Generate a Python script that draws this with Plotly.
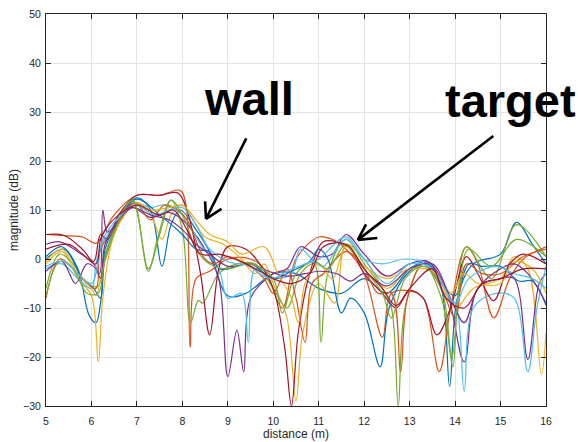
import plotly.graph_objects as go

# ---- data (distance in m, magnitude in dB) ----
blue_a_x = [5, 5.35, 5.7, 5.95, 6.1, 6.2, 6.3, 6.6, 7.0, 7.3, 7.55, 7.75, 7.95, 8.3, 8.6, 9.0, 9.4, 10.0, 10.5, 11.0, 11.5, 12.0, 12.5, 13.0, 13.4, 13.7, 13.88, 14.05, 14.4, 15.0, 15.35, 15.7, 16]
blue_a_y = [0.5, 2.5, -2, -11.5, -13, -9, 0, 8, 12.5, 10, -1.5, 7, 10, 6, 1.5, -7.5, -7, -3, -3, -6, -7, -4, -7, -2, -0.5, -6, -26, -8, -1, 1, 7.5, 3, -1]

orange_a_x = [5, 5.5, 5.8, 6.1, 6.25, 6.5, 7.0, 7.5, 7.95, 8.08, 8.17, 8.3, 8.6, 9.0, 9.5, 9.8, 10.2, 10.5, 11.0, 11.3, 11.6, 12.0, 12.4, 12.6, 13.0, 13.3, 13.65, 13.9, 14.25, 14.5, 14.85, 15.2, 15.5, 16]
orange_a_y = [5, 4.7, 4.5, 3.2, 5, 9, 13, 13, 14, 11, -18, -4, -2.5, 0, 0, -2, -10, 0, 4.5, 4, 2, -3, -16, -7, -6.5, -8, -23, -10, 2.5, -1, -12, -4, 0, 2.5]

yellow_a_x = [5, 5.35, 5.7, 6.0, 6.15, 6.25, 6.5, 6.95, 7.3, 7.55, 7.75, 8.0, 8.3, 8.5, 8.9, 9.3, 9.6, 9.8, 10.0, 10.3, 10.5, 10.65, 11.0, 11.35, 11.6, 12.0, 12.5, 13.0, 13.5, 14.0, 14.4, 15.0, 15.3, 15.6, 15.9, 16]
yellow_a_y = [-1, 1.5, -4, -7.5, -21, -8, 5, 11.5, 9, 4, 9, 11, 7, 4.5, 3, 0, -3, -1, -5, -12, -29, -15, -5, -9, 3, 0, -6, -2, -2, -10, -6, -4, 0.5, -2, -23.5, -15]

purple_a_x = [5, 5.3, 5.7, 6.05, 6.18, 6.25, 6.35, 6.6, 6.9, 7.3, 7.7, 8.0, 8.5, 8.8, 9.0, 9.2, 9.35, 9.5, 10.0, 10.3, 10.6, 11.0, 11.3, 11.6, 12.0, 12.5, 13.0, 13.4, 13.8, 14.2, 14.5, 15.0, 15.3, 15.6, 15.85, 16]
purple_a_y = [3, 3.5, 1.5, -1, -3, 10, 5.5, 8, 10.5, 8.5, 9.5, 8, 2, -4, -24, -14.5, -23, -8, -3, -2, 2.5, 0.5, 1, 5, 1, -3.5, -1, -0.5, -6, -21, -6, -4, -4, -20.5, -5, -3]

green_a_x = [5, 5.3, 5.6, 5.9, 6.15, 6.3, 6.9, 7.25, 7.5, 7.75, 8.0, 8.18, 8.35, 8.45, 8.8, 9.2, 9.6, 10.0, 10.3, 10.6, 10.9, 11.05, 11.2, 11.6, 12.0, 12.4, 12.6, 12.75, 12.9, 13.3, 13.7, 13.95, 14.05, 14.25, 14.8, 15.35, 16]
green_a_y = [-6, 1, -1, -5, -5.5, 1, 12, -2, 5, 12, 6, -13, -8.5, -9, -3, -1, -1, -6, -10, -3, -1, -17, -3, 4, -1, -6, -10, -30, -10, -1, -8, -22, -9, 2.5, -4, 7, 0.5]

lightblue_a_x = [5, 5.35, 5.7, 6.0, 6.1, 6.2, 6.6, 6.95, 7.3, 7.6, 8.0, 8.4, 8.8, 9.0, 9.3, 9.45, 9.6, 9.9, 10.1, 10.4, 10.6, 10.9, 11.1, 11.6, 12.0, 12.4, 12.9, 13.4, 13.8, 14.0, 14.2, 14.4, 14.9, 15.3, 15.6, 15.8, 16]
lightblue_a_y = [-2, -1, -4, -6, -1, 2.5, 8, 11.5, 10.5, 11, 9, 3, -2, -8, -7, -17, -2, -3.5, -4, -3, 2, -0.5, -1.5, 4, 0, -1, 0, -1, -8, -9, -27, -10, -7, -8, -23, -10, -1.5]

darkred_a_x = [5, 5.4, 5.8, 6.05, 6.2, 6.35, 6.6, 7.0, 7.5, 7.9, 8.1, 8.4, 8.6, 8.8, 9.0, 9.4, 9.7, 10.0, 10.25, 10.4, 10.55, 10.8, 11.1, 11.4, 11.7, 12.0, 12.4, 12.7, 13.0, 13.3, 13.6, 13.9, 14.25, 14.5, 14.85, 15.2, 15.5, 16]
darkred_a_y = [5, 4.8, 2, -0.5, 5, 4, 9, 13, 13, 13.5, 10, -3, -15.5, -2, 2.5, 2, -1, -6, -18, -30, -15, -3, 3.5, 3.5, 2, -3, -7, -10, -6.5, -8, -15.5, -10, 0.5, -3, -8.5, -1, 1, -1]

blue_b_x = [5, 5.4, 5.8, 6.05, 6.2, 6.3, 6.6, 7.0, 7.5, 8.0, 8.3, 8.6, 8.8, 9.0, 9.5, 10.0, 10.4, 10.8, 11.0, 11.2, 11.5, 11.7, 12.0, 12.35, 12.55, 13.0, 13.4, 13.7, 14.0, 14.3, 14.6, 15.0, 15.4, 15.7, 16]
blue_b_y = [0, 2, -4, -6, -8, 2, 8, 12.2, 9, 5, 2, 1.5, -2, -2, -1, -4, -2.5, -0.5, 2, 0, -11, -8, -11, -22, -10, -2.5, -1, -5, -7.5, -1, -1.5, -1.5, -4.5, -4.5, -9.5]

orange_b_x = [5, 5.3, 5.6, 5.9, 6.1, 6.2, 6.5, 6.95, 7.3, 7.6, 7.9, 8.1, 8.5, 8.7, 9.0, 9.4, 9.8, 10.0, 10.3, 10.5, 10.7, 10.85, 11.1, 11.6, 12.0, 12.3, 12.6, 12.8, 12.95, 13.3, 13.7, 14.0, 14.25, 14.6, 15.0, 15.5, 16]
orange_b_y = [-8, 0, -2, -5, -6, 2, 6, 11.5, 8, 11, 10, 8, 0, -1, 0.5, -1, -4, -7, -2, -8, -17, -5, -3, 1.5, -2, -7, -7, -23, -8, -1, -6, -12, -1, -3, -3, 0.5, 2]

yellow_b_x = [5, 5.35, 5.7, 6.0, 6.1, 6.25, 6.6, 7.0, 7.3, 7.7, 8.0, 8.3, 8.6, 9.0, 9.3, 9.8, 10.1, 10.4, 10.55, 10.7, 11.0, 11.3, 11.6, 12.0, 12.5, 13.0, 13.5, 13.9, 14.2, 14.5, 15.0, 15.3, 15.7, 16]
yellow_b_y = [-0.5, 2, -3, -6, -7.5, -2, 7, 11.5, 10, 10.5, 11, 8, 5, 3.5, 1, 2.5, -3, -8, -13, -5, -1, -4, 2.5, -1.5, -4, -2, -2.5, -7, -3, -5, -5, -0.5, -2, -7]

purple_b_x = [5, 5.35, 5.65, 5.9, 6.1, 6.2, 6.3, 6.6, 6.9, 7.3, 7.7, 8.0, 8.3, 8.6, 9.0, 9.5, 9.9, 10.3, 10.7, 11.0, 11.4, 11.7, 12.0, 12.5, 13.0, 13.5, 13.9, 14.2, 14.5, 15.0, 15.3, 15.6, 16]
purple_b_y = [-2.5, -0.5, -5, -1, -2, -4, 3, 8, 10.5, 9, 8, 6, 3, 1, -1.5, -1, -2.5, -3.5, -3, -2.5, -3, -4.5, -3, -5.5, -2, -1, -8, -13, -6, -2, -1, -3, -9]

green_b_x = [5, 5.3, 5.6, 5.9, 6.15, 6.3, 6.9, 7.25, 7.45, 7.75, 8.05, 8.3, 8.6, 9.0, 9.5, 10.0, 10.2, 10.5, 10.9, 11.2, 11.6, 12.0, 12.4, 12.6, 12.9, 13.3, 13.7, 13.93, 14.1, 14.3, 14.8, 15.35, 16]
green_b_y = [-7.5, -0.5, -2, -7, -7, 0, 12, -2.5, 4, 12, 8, 2, -1, -2, -1, -4, -11, -3, -0.5, -2, 3, -2, -7, -12, -4, -1.5, -6, -20, -5, 2, -1.5, 4, 0.5]

lightblue_b_x = [5, 5.4, 5.7, 6.0, 6.1, 6.25, 6.6, 6.95, 7.4, 7.7, 8.0, 8.3, 8.6, 9.0, 9.5, 9.7, 10.0, 10.3, 10.7, 11.0, 11.6, 12.0, 12.5, 13.0, 13.5, 14.0, 14.3, 14.9, 15.3, 15.7, 16]
lightblue_b_y = [-1.5, -0.5, -3, -5, -3, 4, 8.5, 11, 9, 10, 10.5, 7, 2, -0.5, -1.5, -3, -4, -2.5, -1, 0, 4.5, 0, -5, -1, -2, -9, -4, -1.5, -3, -4, -6]

darkred_b_x = [5, 5.5, 5.8, 6.1, 6.2, 6.3, 6.6, 7.0, 7.5, 7.8, 8.1, 8.4, 8.8, 9.0, 9.4, 9.8, 10.0, 10.4, 10.8, 11.1, 11.6, 12.0, 12.4, 12.7, 13.0, 13.5, 13.8, 14.2, 14.6, 15.0, 15.5, 16]
darkred_b_y = [2, 3, 1, -1, 4, 6, 9, 11, 9, 10, 6, 1, 1, 0.5, -1, -3, -4, -5, -3, 2.5, 3, -2, -6, -9.5, -6, -2, -8, -10, -5, -4, -2, -2]

BLUE, ORANGE, YELLOW, PURPLE, GREEN, LBLUE, DRED = (
    "#0072BD", "#D95319", "#EDB120", "#7E2F8E", "#77AC30", "#4DBEEE", "#A2142F")

series = [
    (blue_a_x, blue_a_y, BLUE), (orange_a_x, orange_a_y, ORANGE),
    (yellow_a_x, yellow_a_y, YELLOW), (purple_a_x, purple_a_y, PURPLE),
    (green_a_x, green_a_y, GREEN), (lightblue_a_x, lightblue_a_y, LBLUE),
    (darkred_a_x, darkred_a_y, DRED),
    (blue_b_x, blue_b_y, BLUE), (orange_b_x, orange_b_y, ORANGE),
    (yellow_b_x, yellow_b_y, YELLOW), (purple_b_x, purple_b_y, PURPLE),
    (green_b_x, green_b_y, GREEN), (lightblue_b_x, lightblue_b_y, LBLUE),
    (darkred_b_x, darkred_b_y, DRED),
]

fig = go.Figure()
for xs, ys, col in series:
    fig.add_trace(go.Scatter(x=xs, y=ys, mode="lines",
                             line=dict(color=col, width=1.2, shape="spline", smoothing=1.0),
                             showlegend=False, hoverinfo="skip"))

FONT = "Liberation Sans, Arial, Helvetica, sans-serif"
axis_common = dict(showline=True, linecolor="#262626", linewidth=1, mirror="ticks",
                   ticks="inside", ticklen=5, tickcolor="#262626", automargin=False,
                   showgrid=True, gridcolor="#E3E3E3", gridwidth=1, zeroline=False,
                   tickfont=dict(family=FONT, size=10.5, color="#262626"))

fig.update_xaxes(range=[5, 16], tickmode="linear", tick0=5, dtick=1, ticklabelstandoff=5,
                 title=dict(text="distance (m)", font=dict(family=FONT, size=12, color="#262626"), standoff=3),
                 **axis_common)
fig.update_yaxes(range=[-30, 50], tickmode="linear", tick0=-30, dtick=10, ticklabelstandoff=2,
                 **axis_common)

# y-axis title
fig.add_annotation(x=-0.064, y=0.5, xref="paper", yref="paper", text="magnitude (dB)",
                   textangle=-90, showarrow=False, xanchor="center", yanchor="middle",
                   font=dict(family=FONT, size=12, color="#262626"))

# labels and arrows
fig.add_annotation(x=9.47, y=32.7, xref="x", yref="y", text="<b>wall</b>", showarrow=False,
                   font=dict(family=FONT, size=47, color="black"))
fig.add_annotation(x=15.22, y=32.3, xref="x", yref="y", text="<b>target</b>", showarrow=False,
                   font=dict(family=FONT, size=47, color="black"))

arrows = [
    # (tip x, tip y, offset ax, offset ay)
    (8.52, 8.2, 41, -82), (8.52, 8.2, -1, -19), (8.52, 8.2, 17, -11),
    (11.86, 3.9, 137, -105), (11.86, 3.9, 9, -17), (11.86, 3.9, 21, -2),
]
for tx, ty, ax, ay in arrows:
    fig.add_annotation(x=tx, y=ty, xref="x", yref="y", ax=ax, ay=ay, axref="pixel", ayref="pixel",
                       text="", showarrow=True, arrowhead=0, arrowwidth=2.6, arrowcolor="black",
                       standoff=0, startstandoff=0)

fig.update_layout(width=578, height=442, margin=dict(l=46, r=32, t=14, b=36),
                  paper_bgcolor="white", plot_bgcolor="white",
                  font=dict(family=FONT, color="#262626"))

fig.write_html("out.html")
